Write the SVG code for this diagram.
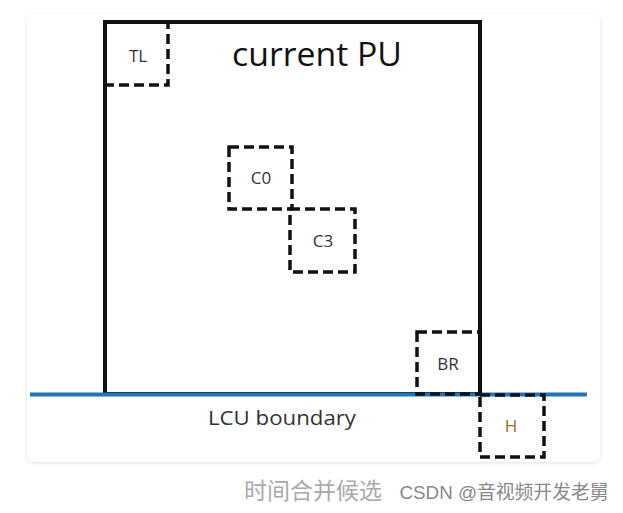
<svg xmlns="http://www.w3.org/2000/svg" width="623" height="513" viewBox="0 0 623 513">
<defs>
<filter id="sh" x="-5%" y="-5%" width="110%" height="110%"><feGaussianBlur in="SourceAlpha" stdDeviation="2"/><feOffset dy="1"/><feComponentTransfer><feFuncA type="linear" slope="0.12"/></feComponentTransfer><feMerge><feMergeNode/><feMergeNode in="SourceGraphic"/></feMerge></filter>
</defs>
<style>
.dash{fill:none;stroke:#111;stroke-width:3.5;stroke-dasharray:10 5;}
.lbl{font-family:"Open Sans","Liberation Sans",sans-serif;font-size:17px;fill:#333;text-anchor:middle;}
</style>
<rect x="0" y="0" width="623" height="513" fill="#fff"/>
<rect x="27" y="14" width="573" height="448" rx="7" fill="#fff" filter="url(#sh)"/>
<g id="pu">
<rect x="105" y="22" width="375" height="372" fill="none" stroke="#111" stroke-width="4"/>
<text x="232" y="66" font-family="Open Sans,Liberation Sans,sans-serif" font-size="32" fill="#111" textLength="170" lengthAdjust="spacingAndGlyphs">current PU</text>
</g>
<g id="boundary">
<line x1="30" y1="394.5" x2="587" y2="394.5" stroke="#2474b8" stroke-width="4"/>
<text x="208" y="425" font-family="Open Sans,Liberation Sans,sans-serif" font-size="20" fill="#333" textLength="148" lengthAdjust="spacingAndGlyphs">LCU boundary</text>
</g>
<g id="TL"><path class="dash" d="M105 22 H168 V85 H105"/><text class="lbl" x="138" y="62">TL</text></g>
<g id="C0"><rect class="dash" x="229" y="147" width="63" height="62"/><text class="lbl" x="261" y="184">C0</text></g>
<g id="C3"><rect class="dash" x="290" y="209" width="65" height="63"/><text class="lbl" x="323" y="247">C3</text></g>
<g id="BR"><rect class="dash" x="417" y="332" width="63" height="62"/><text class="lbl" x="448" y="370">BR</text></g>
<g id="H"><rect class="dash" x="480" y="395" width="64" height="62"/><text class="lbl" x="511" y="432" style="fill:#9a6a2a">H</text></g>
<g id="caption">
<text x="313" y="499" font-family="Noto Sans CJK SC,sans-serif" font-size="23" fill="#aaa" text-anchor="middle">时间合并候选</text>
<text x="504" y="499" font-family="Liberation Sans,Noto Sans CJK SC,sans-serif" font-size="18.8" fill="#888" text-anchor="middle">CSDN @音视频开发老舅</text>
</g>
<g id="connectors"></g>
</svg>
